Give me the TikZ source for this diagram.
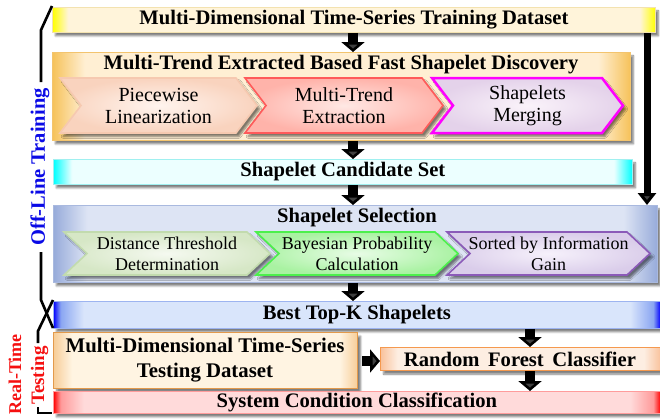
\documentclass[tikz,border=0pt]{standalone}
\usepackage{fontspec}
\setmainfont{Liberation Serif}
\usetikzlibrary{arrows.meta,shadows.blur,calc}

\definecolor{trE}{HTML}{FFFF00}\definecolor{trM}{HTML}{FFF4DA}\definecolor{trB}{HTML}{F3E2B0}
\definecolor{dE}{HTML}{F6C25A}\definecolor{dM}{HTML}{FFEFD3}\definecolor{dB}{HTML}{F3C46E}
\definecolor{cE}{HTML}{00FFFF}\definecolor{cM}{HTML}{ECFFFF}\definecolor{cB}{HTML}{A0F0F0}
\definecolor{sE}{HTML}{97ABDA}\definecolor{sM}{HTML}{DDE4F4}\definecolor{sB}{HTML}{A9B9DF}
\definecolor{bE}{HTML}{0000FF}\definecolor{bE2}{HTML}{8AA6F2}\definecolor{bM}{HTML}{D9E5FB}\definecolor{bB}{HTML}{9DB4F0}
\definecolor{tE}{HTML}{F7CD98}\definecolor{tM}{HTML}{FFF4E2}\definecolor{tB}{HTML}{E39A4C}
\definecolor{rE}{HTML}{F9C29C}\definecolor{rM}{HTML}{FDEEE2}\definecolor{rB}{HTML}{F5994E}
\definecolor{yE}{HTML}{FF0000}\definecolor{yE2}{HTML}{FF9A9A}\definecolor{yM}{HTML}{FFDADA}\definecolor{yB}{HTML}{FF9C9C}
\definecolor{offBlue}{HTML}{0A0AE6}\definecolor{rtRed}{HTML}{F51010}
\definecolor{pwB}{HTML}{F6C9B0}\definecolor{pwO}{HTML}{F9D3BE}\definecolor{pwI}{HTML}{FFF4EE}
\definecolor{mtB}{HTML}{FF5A5A}\definecolor{mtO}{HTML}{FFB3AA}\definecolor{mtI}{HTML}{FFE8E4}
\definecolor{smB}{HTML}{FF00FF}\definecolor{smO}{HTML}{E4D2EA}\definecolor{smI}{HTML}{FAF3FA}
\definecolor{dtB}{HTML}{C2DBAE}\definecolor{dtO}{HTML}{D6E7C6}\definecolor{dtI}{HTML}{F5F9F0}
\definecolor{bpB}{HTML}{4CF04C}\definecolor{bpO}{HTML}{A9F2A2}\definecolor{bpI}{HTML}{E8FCE6}
\definecolor{soB}{HTML}{8B5AB8}\definecolor{soO}{HTML}{DACDEA}\definecolor{soI}{HTML}{F6F1FB}

\pgfdeclarehorizontalshading{shTrain}{100bp}{color(0bp)=(trE); color(25bp)=(trE); color(26.3bp)=(trM); color(73.7bp)=(trM); color(75bp)=(trE); color(100bp)=(trE)}
\pgfdeclarehorizontalshading{shDisc}{100bp}{color(0bp)=(dE); color(25bp)=(dE); color(27.8bp)=(dM); color(72.2bp)=(dM); color(75bp)=(dE); color(100bp)=(dE)}
\pgfdeclarehorizontalshading{shCand}{100bp}{color(0bp)=(cE); color(25bp)=(cE); color(26.6bp)=(cM); color(73.4bp)=(cM); color(75bp)=(cE); color(100bp)=(cE)}
\pgfdeclarehorizontalshading{shSel}{100bp}{color(0bp)=(sE); color(25bp)=(sE); color(27.8bp)=(sM); color(72.2bp)=(sM); color(75bp)=(sE); color(100bp)=(sE)}
\pgfdeclarehorizontalshading{shBest}{100bp}{color(0bp)=(bE); color(25bp)=(bE); color(25.6bp)=(bE2); color(27.5bp)=(bM); color(72.5bp)=(bM); color(74.4bp)=(bE2); color(75bp)=(bE); color(100bp)=(bE)}
\pgfdeclarehorizontalshading{shTest}{100bp}{color(0bp)=(tE); color(25bp)=(tE); color(28bp)=(tM); color(72bp)=(tM); color(75bp)=(tE); color(100bp)=(tE)}
\pgfdeclarehorizontalshading{shRF}{100bp}{color(0bp)=(rE); color(25bp)=(rE); color(28bp)=(rM); color(72bp)=(rM); color(75bp)=(rE); color(100bp)=(rE)}
\pgfdeclarehorizontalshading{shSys}{100bp}{color(0bp)=(yE); color(25bp)=(yE); color(25.6bp)=(yE2); color(27.5bp)=(yM); color(72.5bp)=(yM); color(74.4bp)=(yE2); color(75bp)=(yE); color(100bp)=(yE)}

\newcommand\mychev[9]{%
  \pgfmathsetmacro\chvA{#2+#6}%
  \pgfmathsetmacro\chvB{#4-#6}%
  \pgfmathsetmacro\chvM{(#3+#5)/2}%
  \pgfmathsetmacro\chvC{(#2+#4)/2}%
  \path[#7] (#2,#3) -- (\chvB,#3) -- (#4,\chvM) -- (\chvB,#5) -- (#2,#5) -- (\chvA,\chvM) -- cycle;
  \node[#8] (#1) at (\chvC,\chvM) {#9};}

\begin{document}
\begin{tikzpicture}[x=1pt,y=-1pt,
  shad/.style={blur shadow={shadow xshift=3pt,shadow yshift=-3.5pt,shadow blur steps=6,shadow opacity=50}},
  box/.style={rectangle,inner sep=0pt,anchor=north west,shad,line width=0.8pt},
  ttl/.style={font=\bfseries\fontsize{20.6}{24}\selectfont,inner sep=0pt,align=center},
  chv/.style={font=\fontsize{20}{22}\selectfont,inner sep=0pt,align=center},
  chvs/.style={font=\fontsize{18}{21}\selectfont,inner sep=0pt,align=center},
  barrow/.style={line width=10pt,-{Triangle[length=10pt,width=23pt]}},
  bigarrow/.style={line width=7pt,-{Triangle[length=12pt,width=18pt]}},
  brk/.style={line width=2.6pt,line join=miter},
  sidelbl/.style={rotate=90,font=\bfseries\fontsize{18}{22}\selectfont,inner sep=0pt},
]
\useasboundingbox (0,0) rectangle (660,418);

% containers
\node[box,shading=shTrain,draw=trB,minimum width=603pt,minimum height=25pt] (train) at (52,7) {};
\node[box,shading=shDisc,draw=dB,minimum width=578pt,minimum height=88pt] (disc) at (52,52) {};
\node[box,shading=shCand,draw=cB,minimum width=579pt,minimum height=25pt] (cand) at (53,159) {};
\node[box,shading=shSel,draw=sB,minimum width=604pt,minimum height=77pt] (sel) at (53,205) {};
\node[box,shading=shBest,draw=bB,minimum width=607pt,minimum height=27pt] (best) at (53,301) {};
\node[box,shading=shTest,draw=tB,line width=1.4pt,minimum width=304pt,minimum height=56pt] (test) at (53,332) {};
\node[box,shading=shRF,draw=rB,line width=1.2pt,minimum width=280pt,minimum height=23pt] (rf) at (380,347) {};
\node[box,shading=shSys,draw=yB,minimum width=607pt,minimum height=22pt] (sys) at (53,391) {};

% titles
\node[ttl] (trainT) at (train.center) {Multi-Dimensional Time-Series Training Dataset};
\node[ttl] (discT) at (341,65) {Multi-Trend Extracted Based Fast Shapelet Discovery};
\node[ttl] (candT) at (cand.center) {Shapelet Candidate Set};
\node[ttl] (selT) at (357,218) {Shapelet Selection};
\node[ttl] (bestT) at (best.center) {Best Top-K Shapelets};
\node[ttl,font=\bfseries\fontsize{20.8}{25}\selectfont] (testT) at (205,360) {Multi-Dimensional Time-Series\\Testing Dataset};
\node[ttl] (rfT) at (520,359) {Random\hspace{0.42em}Forest\hspace{0.42em}Classifier};
\node[ttl] (sysT) at (sys.center) {System Condition Classification};

% chevrons row 1
\mychev{pw}{60}{78}{257}{133}{21}{shad,draw=pwB,line width=1.6pt,inner color=pwI,outer color=pwO}{chv}{Piecewise\\Linearization}
\mychev{mt}{245}{78}{443}{133}{21}{shad,draw=mtB,line width=1.6pt,inner color=mtI,outer color=mtO}{chv}{Multi-Trend\\Extraction}
\mychev{sm}{432}{78}{623}{133}{21}{shad,draw=smB,line width=2.5pt,inner color=smI,outer color=smO}{chv}{Shapelets\\Merging}

% chevrons row 2
\mychev{dt}{64}{232}{270}{275}{23}{shad,draw=dtB,line width=1.6pt,inner color=dtI,outer color=dtO}{chvs}{Distance Threshold\\Determination}
\mychev{bp}{256}{232}{458}{275}{23}{shad,draw=bpB,line width=1.6pt,inner color=bpI,outer color=bpO}{chvs}{Bayesian Probability\\Calculation}
\mychev{so}{447}{232}{650}{275}{23}{shad,draw=soB,line width=1.6pt,inner color=soI,outer color=soO}{chvs}{Sorted by Information\\Gain}

% arrow guide coordinates
\coordinate (ax) at (353,0);
\coordinate (bx) at (530,0);
\coordinate (gx) at (647,0);
\coordinate (hy) at (0,361);

% arrows
\draw[barrow] (train.south -| ax) -- (disc.north -| ax);
\draw[barrow] (disc.south -| ax) -- (cand.north -| ax);
\draw[barrow] (cand.south -| ax) -- (sel.north -| ax);
\draw[barrow] (sel.south -| ax) -- (best.north -| ax);
\draw[bigarrow] (train.south -| gx) -- (sel.north -| gx);
\draw[barrow] (best.south -| bx) -- (rf.north -| bx);
\draw[barrow] (rf.south -| bx) -- (sys.north -| bx);
\draw[barrow] ([xshift=4pt]test.east |- hy) -- (rf.west |- hy);

% side labels and brackets
\node[sidelbl,font=\bfseries\fontsize{20.5}{22}\selectfont,text=offBlue] (offl) at (40,167) {Off-Line Training};
\node[sidelbl,text=rtRed,anchor=base west] (rtl1) at (21,415) {Real-Time};
\node[sidelbl,font=\bfseries\fontsize{19}{22}\selectfont,text=rtRed,anchor=base west] (rtl2) at (44,405) {Testing};
\draw[brk] (52,6) -- (41,30) -- (41,82);
\draw[brk] (41,252) -- (41,300) -- (53,328);
\draw[brk] (53,300) -- (38,331) -- (38,343);
\draw[brk] (38,407) -- (38,413) -- (52,413);
\end{tikzpicture}
\end{document}
